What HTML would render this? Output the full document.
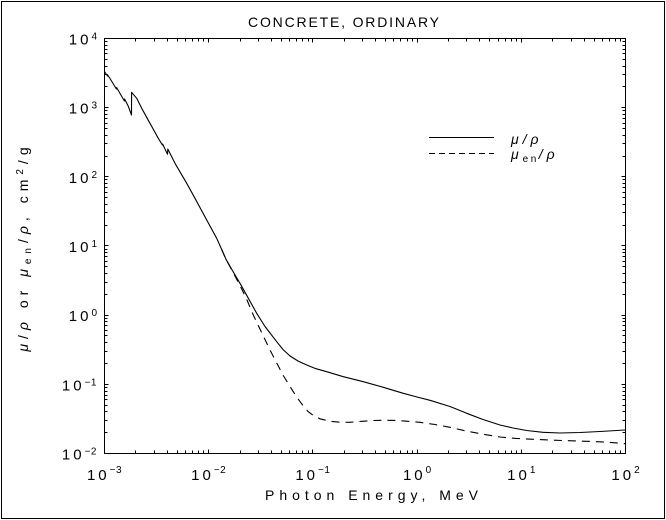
<!DOCTYPE html>
<html><head><meta charset="utf-8">
<style>
html,body{margin:0;padding:0;background:#fff;width:666px;height:520px;overflow:hidden}
svg{display:block}
text{fill:#000}
</style></head>
<body>
<svg width="666" height="520" viewBox="0 0 666 520" xmlns="http://www.w3.org/2000/svg" font-family="'Liberation Sans', sans-serif">
<rect x="0" y="0" width="666" height="520" fill="#fff"/>
<rect x="1.5" y="1.5" width="663" height="517" fill="none" stroke="#000" stroke-width="1" shape-rendering="crispEdges"/>

<!-- title -->
<text x="248" y="27" font-size="14" textLength="191" lengthAdjust="spacing">CONCRETE, ORDINARY</text>

<!-- plot frame -->
<rect x="104.5" y="38.5" width="521" height="415" fill="none" stroke="#000" stroke-width="1" shape-rendering="crispEdges"/>

<!-- ticks -->
<g stroke="#000" stroke-width="1" fill="none" shape-rendering="crispEdges">
<path d="M135.5 453.5v-3M154.5 453.5v-3M167.5 453.5v-3M177.5 453.5v-3M185.5 453.5v-3M192.5 453.5v-3M198.5 453.5v-3M203.5 453.5v-3
M240.5 453.5v-3M258.5 453.5v-3M271.5 453.5v-3M281.5 453.5v-3M289.5 453.5v-3M296.5 453.5v-3M302.5 453.5v-3M308.5 453.5v-3
M344.5 453.5v-3M362.5 453.5v-3M375.5 453.5v-3M385.5 453.5v-3M393.5 453.5v-3M400.5 453.5v-3M407.5 453.5v-3M412.5 453.5v-3
M448.5 453.5v-3M466.5 453.5v-3M479.5 453.5v-3M489.5 453.5v-3M498.5 453.5v-3M505.5 453.5v-3M511.5 453.5v-3M516.5 453.5v-3
M552.5 453.5v-3M571.5 453.5v-3M584.5 453.5v-3M594.5 453.5v-3M602.5 453.5v-3M609.5 453.5v-3M615.5 453.5v-3M620.5 453.5v-3
M208.5 453.5v-4M312.5 453.5v-4M417.5 453.5v-4M521.5 453.5v-4"/>
<path d="M135.5 38.5v3M154.5 38.5v3M167.5 38.5v3M177.5 38.5v3M185.5 38.5v3M192.5 38.5v3M198.5 38.5v3M203.5 38.5v3
M240.5 38.5v3M258.5 38.5v3M271.5 38.5v3M281.5 38.5v3M289.5 38.5v3M296.5 38.5v3M302.5 38.5v3M308.5 38.5v3
M344.5 38.5v3M362.5 38.5v3M375.5 38.5v3M385.5 38.5v3M393.5 38.5v3M400.5 38.5v3M407.5 38.5v3M412.5 38.5v3
M448.5 38.5v3M466.5 38.5v3M479.5 38.5v3M489.5 38.5v3M498.5 38.5v3M505.5 38.5v3M511.5 38.5v3M516.5 38.5v3
M552.5 38.5v3M571.5 38.5v3M584.5 38.5v3M594.5 38.5v3M602.5 38.5v3M609.5 38.5v3M615.5 38.5v3M620.5 38.5v3
M208.5 38.5v4M312.5 38.5v4M417.5 38.5v4M521.5 38.5v4"/>
<path d="M104.5 432.5h3M104.5 420.5h3M104.5 411.5h3M104.5 405.5h3M104.5 399.5h3M104.5 395.5h3M104.5 391.5h3M104.5 387.5h3
M104.5 363.5h3M104.5 351.5h3M104.5 342.5h3M104.5 335.5h3M104.5 330.5h3M104.5 325.5h3M104.5 321.5h3M104.5 318.5h3
M104.5 294.5h3M104.5 282.5h3M104.5 273.5h3M104.5 266.5h3M104.5 261.5h3M104.5 256.5h3M104.5 252.5h3M104.5 249.5h3
M104.5 225.5h3M104.5 212.5h3M104.5 204.5h3M104.5 197.5h3M104.5 192.5h3M104.5 187.5h3M104.5 183.5h3M104.5 179.5h3
M104.5 156.5h3M104.5 143.5h3M104.5 135.5h3M104.5 128.5h3M104.5 123.5h3M104.5 118.5h3M104.5 114.5h3M104.5 110.5h3
M104.5 86.5h3M104.5 74.5h3M104.5 66.5h3M104.5 59.5h3M104.5 53.5h3M104.5 49.5h3M104.5 45.5h3M104.5 41.5h3
M104.5 384.5h4M104.5 315.5h4M104.5 245.5h4M104.5 176.5h4M104.5 107.5h4"/>
<path d="M625.5 432.5h-3M625.5 420.5h-3M625.5 411.5h-3M625.5 405.5h-3M625.5 399.5h-3M625.5 395.5h-3M625.5 391.5h-3M625.5 387.5h-3
M625.5 363.5h-3M625.5 351.5h-3M625.5 342.5h-3M625.5 335.5h-3M625.5 330.5h-3M625.5 325.5h-3M625.5 321.5h-3M625.5 318.5h-3
M625.5 294.5h-3M625.5 282.5h-3M625.5 273.5h-3M625.5 266.5h-3M625.5 261.5h-3M625.5 256.5h-3M625.5 252.5h-3M625.5 249.5h-3
M625.5 225.5h-3M625.5 212.5h-3M625.5 204.5h-3M625.5 197.5h-3M625.5 192.5h-3M625.5 187.5h-3M625.5 183.5h-3M625.5 179.5h-3
M625.5 156.5h-3M625.5 143.5h-3M625.5 135.5h-3M625.5 128.5h-3M625.5 123.5h-3M625.5 118.5h-3M625.5 114.5h-3M625.5 110.5h-3
M625.5 86.5h-3M625.5 74.5h-3M625.5 66.5h-3M625.5 59.5h-3M625.5 53.5h-3M625.5 49.5h-3M625.5 45.5h-3M625.5 41.5h-3
M625.5 384.5h-4M625.5 315.5h-4M625.5 245.5h-4M625.5 176.5h-4M625.5 107.5h-4"/>
</g>

<!-- y tick labels -->
<g font-size="15" text-anchor="end">
<text x="97" y="44.5"><tspan letter-spacing="3">10</tspan><tspan font-size="10" dy="-5">4</tspan></text>
<text x="97" y="113.7"><tspan letter-spacing="3">10</tspan><tspan font-size="10" dy="-5">3</tspan></text>
<text x="97" y="182.8"><tspan letter-spacing="3">10</tspan><tspan font-size="10" dy="-5">2</tspan></text>
<text x="97" y="252"><tspan letter-spacing="3">10</tspan><tspan font-size="10" dy="-5">1</tspan></text>
<text x="97" y="321.2"><tspan letter-spacing="3">10</tspan><tspan font-size="10" dy="-5">0</tspan></text>
<text x="97" y="390.3"><tspan letter-spacing="3">10</tspan><tspan font-size="10" dy="-5" letter-spacing="0.5">−1</tspan></text>
<text x="97" y="459.5"><tspan letter-spacing="3">10</tspan><tspan font-size="10" dy="-5" letter-spacing="0.5">−2</tspan></text>
</g>

<!-- x tick labels -->
<g font-size="15" text-anchor="middle">
<text x="104.5" y="480"><tspan letter-spacing="3">10</tspan><tspan font-size="10" dy="-7" letter-spacing="0.5">−3</tspan></text>
<text x="208.7" y="480"><tspan letter-spacing="3">10</tspan><tspan font-size="10" dy="-7" letter-spacing="0.5">−2</tspan></text>
<text x="312.9" y="480"><tspan letter-spacing="3">10</tspan><tspan font-size="10" dy="-7" letter-spacing="0.5">−1</tspan></text>
<text x="417.1" y="480"><tspan letter-spacing="3">10</tspan><tspan font-size="10" dy="-7">0</tspan></text>
<text x="521.3" y="480"><tspan letter-spacing="3">10</tspan><tspan font-size="10" dy="-7">1</tspan></text>
<text x="625.5" y="480"><tspan letter-spacing="3">10</tspan><tspan font-size="10" dy="-7">2</tspan></text>
</g>

<!-- axis titles -->
<text x="265" y="500" font-size="14" textLength="213" lengthAdjust="spacing">Photon Energy, MeV</text>
<text transform="translate(28,247) rotate(-90)" text-anchor="middle" font-size="14" letter-spacing="5"><tspan font-style="italic">μ</tspan>/<tspan font-style="italic">ρ</tspan> or <tspan font-style="italic">μ</tspan><tspan font-size="10" dy="3">en</tspan><tspan dy="-3">/</tspan><tspan font-style="italic">ρ</tspan>, cm<tspan font-size="10" dy="-5">2</tspan><tspan dy="5">/g</tspan></text>

<!-- curves -->
<path fill="none" stroke="#000" stroke-width="1.1" stroke-linejoin="round" d="M104.5,71.5 L107.5,76 L107.6,75 L110,78.5 L116.4,89 L116.6,87.5 L124.4,101 L124.6,99 L128.3,106.3 L131.5,115 L131.6,92.3 L136.7,98.3 L141.7,108.3 L150,123.3 L158.3,138.3 L162.4,145 L162.6,144 L167.5,154.3 L167.8,149 L175,163.3 L186.7,183.3 L195,198.3 L206.7,220 L216.7,238.3 L221.7,249.5 L226,259.3 L233,271.5 L240,283.3 L248,297.7 L256.7,313.3 L265,326.5 L276.7,341.7 L283,349.5 L290,356 L298,361 L306.7,365 L316,368.7 L326.7,371.7 L343.3,376.7 L363.3,381.7 L383.3,387.3 L403.3,393.3 L417,397 L430,400.3 L450,406.5 L466.7,413.3 L483,419.5 L500,425 L513,428 L526.7,430.5 L543,432.3 L560,433 L580,432.5 L600,431.5 L625,430"/>
<path fill="none" stroke="#000" stroke-width="1.1" stroke-dasharray="8 6" d="M221.7,249.5 L226,259.3 L235,276 L241.7,289 L247,300 L253.3,315 L258,325 L263.3,336 L270,350 L276.7,363 L283,375 L290,386.5 L297,397.5 L303.3,406 L308,411.5 L313.3,415.5 L320,418.8 L330,421.3 L340,422.2 L350,422.3 L362,421.3 L373.3,420.5 L385,420.3 L396.7,420.5 L408,421.3 L420,422.3 L435,424.5 L450,427.3 L466,431 L483.3,434.3 L500,437 L516,438.4 L533.3,439.3 L550,440 L566.7,440.7 L583,441.2 L600,441.8 L612,442.6 L625,443.7"/>

<!-- legend -->
<path d="M429 137.5H494" stroke="#000" stroke-width="1" shape-rendering="crispEdges"/>
<path d="M429 153.5H494" stroke="#000" stroke-width="1" stroke-dasharray="6 4" shape-rendering="crispEdges"/>
<text x="511" y="144" font-size="14" font-style="italic" letter-spacing="4">μ/ρ</text>
<text x="511" y="159" font-size="14" font-style="italic" letter-spacing="4">μ<tspan font-size="10" font-style="normal" dy="3" letter-spacing="2.5">en</tspan><tspan dy="-3">/ρ</tspan></text>
</svg>
</body></html>
